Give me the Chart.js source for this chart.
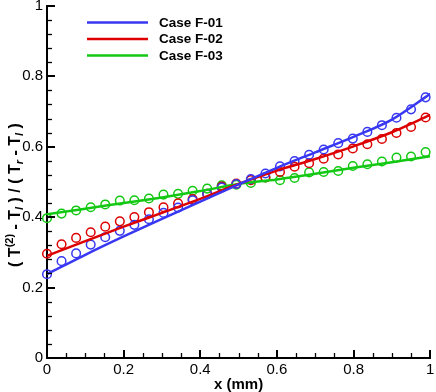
<!DOCTYPE html>
<html>
<head>
<meta charset="utf-8">
<script src="https://cdn.jsdelivr.net/npm/chart.js@4.4.1/dist/chart.umd.min.js"></script>
<style>
    html, body { margin: 0; padding: 0; background: #fff; }
    canvas { display: block; }
</style>
</head>
<body>
<canvas id="chart" width="436" height="392"></canvas>
<script>
const caseLabels = ['Case F-01', 'Case F-02', 'Case F-03'];
const caseColors = ['#3838f2', '#dd0000', '#12c812'];

// ---- solid curves ----
const lineX   = [0, 0.1, 0.2, 0.3, 0.4, 0.5, 0.6, 0.7, 0.8, 0.9, 1.0];
const lineF01 = [0.238, 0.293, 0.345, 0.395, 0.444, 0.493, 0.540, 0.584, 0.628, 0.677, 0.750];
const lineF02 = [0.290, 0.332, 0.373, 0.412, 0.452, 0.494, 0.532, 0.565, 0.601, 0.641, 0.690];
const lineF03 = [0.408, 0.424, 0.440, 0.456, 0.474, 0.494, 0.507, 0.523, 0.540, 0.556, 0.573];

// ---- circle symbols ----
const symX = [0, 0.038, 0.076, 0.114, 0.152, 0.190, 0.228, 0.266, 0.304, 0.342, 0.380, 0.418, 0.456, 0.494,
              0.532, 0.570, 0.608, 0.646, 0.684, 0.722, 0.760, 0.798, 0.836, 0.874, 0.912, 0.950, 0.988];
const symF01 = [0.238, 0.275, 0.297, 0.322, 0.343, 0.361, 0.378, 0.394, 0.412, 0.427, 0.448, 0.466, 0.484, 0.494,
                0.508, 0.524, 0.544, 0.559, 0.577, 0.592, 0.610, 0.623, 0.642, 0.661, 0.682, 0.706, 0.740];
const symF02 = [0.296, 0.323, 0.341, 0.357, 0.373, 0.388, 0.400, 0.414, 0.428, 0.439, 0.451, 0.466, 0.487, 0.495,
                0.505, 0.513, 0.528, 0.543, 0.553, 0.566, 0.578, 0.595, 0.607, 0.622, 0.639, 0.656, 0.683];
const symF03 = [0.397, 0.410, 0.419, 0.428, 0.436, 0.447, 0.448, 0.453, 0.464, 0.466, 0.475, 0.481, 0.490, 0.492,
                0.497, 0.512, 0.505, 0.511, 0.527, 0.528, 0.531, 0.545, 0.550, 0.558, 0.569, 0.572, 0.585];

// ---- axes ----
const xTicks = [0, 0.2, 0.4, 0.6, 0.8, 1];
const yTicks = [0, 0.2, 0.4, 0.6, 0.8, 1];
const xMinorStep = 0.05;
const yMinorStep = 0.04;
const xTitle = 'x (mm)';
// y title pieces: plain text, superscript, subscript
const yTitleParts = [
    {t: '( T'}, {t: '(2)', sup: true}, {t: ' - T'}, {t: 'l', sub: true},
    {t: ' ) / ( T'}, {t: 'r', sub: true}, {t: ' - T'}, {t: 'l', sub: true}, {t: ' )'}
];

const FONT = "'Liberation Sans', Arial, sans-serif";

const pts = (xs, ys) => xs.map((x, i) => ({x: x, y: ys[i]}));
const lineSets = [lineF01, lineF02, lineF03];
const symSets = [symF01, symF02, symF03];

let datasets = [];
lineSets.forEach((ys, i) => {
    datasets.push({
        label: caseLabels[i],
        data: pts(lineX, ys),
        showLine: true,
        borderColor: caseColors[i],
        borderWidth: 2.5,
        pointRadius: 0,
        cubicInterpolationMode: 'monotone',
        fill: false
    });
});
symSets.forEach((ys, i) => {
    datasets.push({
        label: caseLabels[i] + ' (symbols)',
        data: pts(symX, ys),
        showLine: false,
        borderColor: caseColors[i],
        backgroundColor: 'rgba(0,0,0,0)',
        borderWidth: 1.5,
        pointRadius: 4.3,
        pointStyle: 'circle',
        clip: false
    });
});

const fmt = v => String(Number(v.toFixed(1)));

// ticks pointing into the plot, Tecplot style
const inwardTicks = {
    id: 'inwardTicks',
    afterDraw(chart) {
        const {ctx, chartArea: a, scales: {x, y}} = chart;
        ctx.save();
        ctx.strokeStyle = '#000';
        const seg = (x1, y1, x2, y2, w) => {
            ctx.lineWidth = w;
            ctx.beginPath();
            ctx.moveTo(x1, y1);
            ctx.lineTo(x2, y2);
            ctx.stroke();
        };
        xTicks.forEach(v => {
            const px = Math.round(x.getPixelForValue(v));
            seg(px, a.bottom, px, a.bottom - 8, 2);
        });
        for (let i = 1; i * xMinorStep < 1; i++) {
            if (i % 4 === 0) continue;
            const px = Math.round(x.getPixelForValue(i * xMinorStep)) + 0.5;
            seg(px, a.bottom, px, a.bottom - 5, 1.3);
        }
        yTicks.forEach(v => {
            const py = Math.round(y.getPixelForValue(v));
            seg(a.left, py, a.left + 8, py, 2);
        });
        for (let i = 1; i * yMinorStep < 1; i++) {
            if (i % 5 === 0) continue;
            const py = Math.round(y.getPixelForValue(i * yMinorStep)) + 0.5;
            seg(a.left, py, a.left + 5, py, 1.3);
        }
        ctx.restore();
    }
};

// legend with line samples only
const lineLegend = {
    id: 'lineLegend',
    afterDraw(chart) {
        const ctx = chart.ctx;
        ctx.save();
        ctx.font = 'bold 13.5px ' + FONT;
        ctx.textBaseline = 'middle';
        ctx.fillStyle = '#000';
        for (let i = 0; i < caseLabels.length; i++) {
            const yy = 22.5 + i * 16.5;
            ctx.strokeStyle = caseColors[i];
            ctx.lineWidth = 2.5;
            ctx.beginPath();
            ctx.moveTo(87, yy);
            ctx.lineTo(148, yy);
            ctx.stroke();
            ctx.fillText(caseLabels[i], 159, yy + 0.5);
        }
        ctx.restore();
    }
};

// rotated y title with super/subscripts
const yTitle = {
    id: 'yTitle',
    afterDraw(chart) {
        const ctx = chart.ctx;
        const size = 16;
        const small = 11;
        ctx.save();
        ctx.fillStyle = '#000';
        ctx.textBaseline = 'alphabetic';
        const fontOf = p => p.sup || p.sub ? 'bold ' + (p.sub ? 'italic ' : '') + small + 'px ' + FONT
                                          : 'bold ' + size + 'px ' + FONT;
        let total = 0;
        yTitleParts.forEach(p => { ctx.font = fontOf(p); total += ctx.measureText(p.t).width; });
        ctx.translate(20, 195);
        ctx.rotate(-Math.PI / 2);
        let cx = -total / 2;
        yTitleParts.forEach(p => {
            ctx.font = fontOf(p);
            const dy = p.sup ? -7 : p.sub ? 3 : 0;
            ctx.fillText(p.t, cx, dy);
            cx += ctx.measureText(p.t).width;
        });
        ctx.restore();
    }
};

new Chart(document.getElementById('chart'), {
    type: 'scatter',
    data: {datasets: datasets},
    options: {
        responsive: false,
        animation: false,
        devicePixelRatio: 1,
        layout: {padding: {left: 0, right: 2, top: 5, bottom: 0}},
        plugins: {legend: {display: false}, tooltip: {enabled: false}},
        scales: {
            x: {
                type: 'linear',
                min: 0, max: 1,
                afterBuildTicks: s => { s.ticks = xTicks.map(v => ({value: v})); },
                afterFit: s => { s.height = 34; s.paddingLeft = 0; s.paddingRight = 0; },
                grid: {display: false, drawTicks: false},
                border: {display: true, color: '#000', width: 2},
                ticks: {
                    autoSkip: false, maxRotation: 0, padding: 3, color: '#000',
                    font: {family: FONT, size: 15}, callback: fmt
                },
                title: {
                    display: true, text: xTitle, color: '#000',
                    font: {family: FONT, size: 15, weight: 'bold', lineHeight: 1},
                    padding: {top: 0, bottom: 0}
                }
            },
            y: {
                type: 'linear',
                min: 0, max: 1,
                afterBuildTicks: s => { s.ticks = yTicks.map(v => ({value: v})); },
                afterFit: s => { s.width = 47; s.paddingTop = 0; s.paddingBottom = 0; },
                grid: {display: false, drawTicks: false},
                border: {display: true, color: '#000', width: 2},
                ticks: {
                    autoSkip: false, padding: 4, color: '#000',
                    font: {family: FONT, size: 15}, callback: fmt
                }
            }
        }
    },
    plugins: [inwardTicks, lineLegend, yTitle]
});
</script>
</body>
</html>
